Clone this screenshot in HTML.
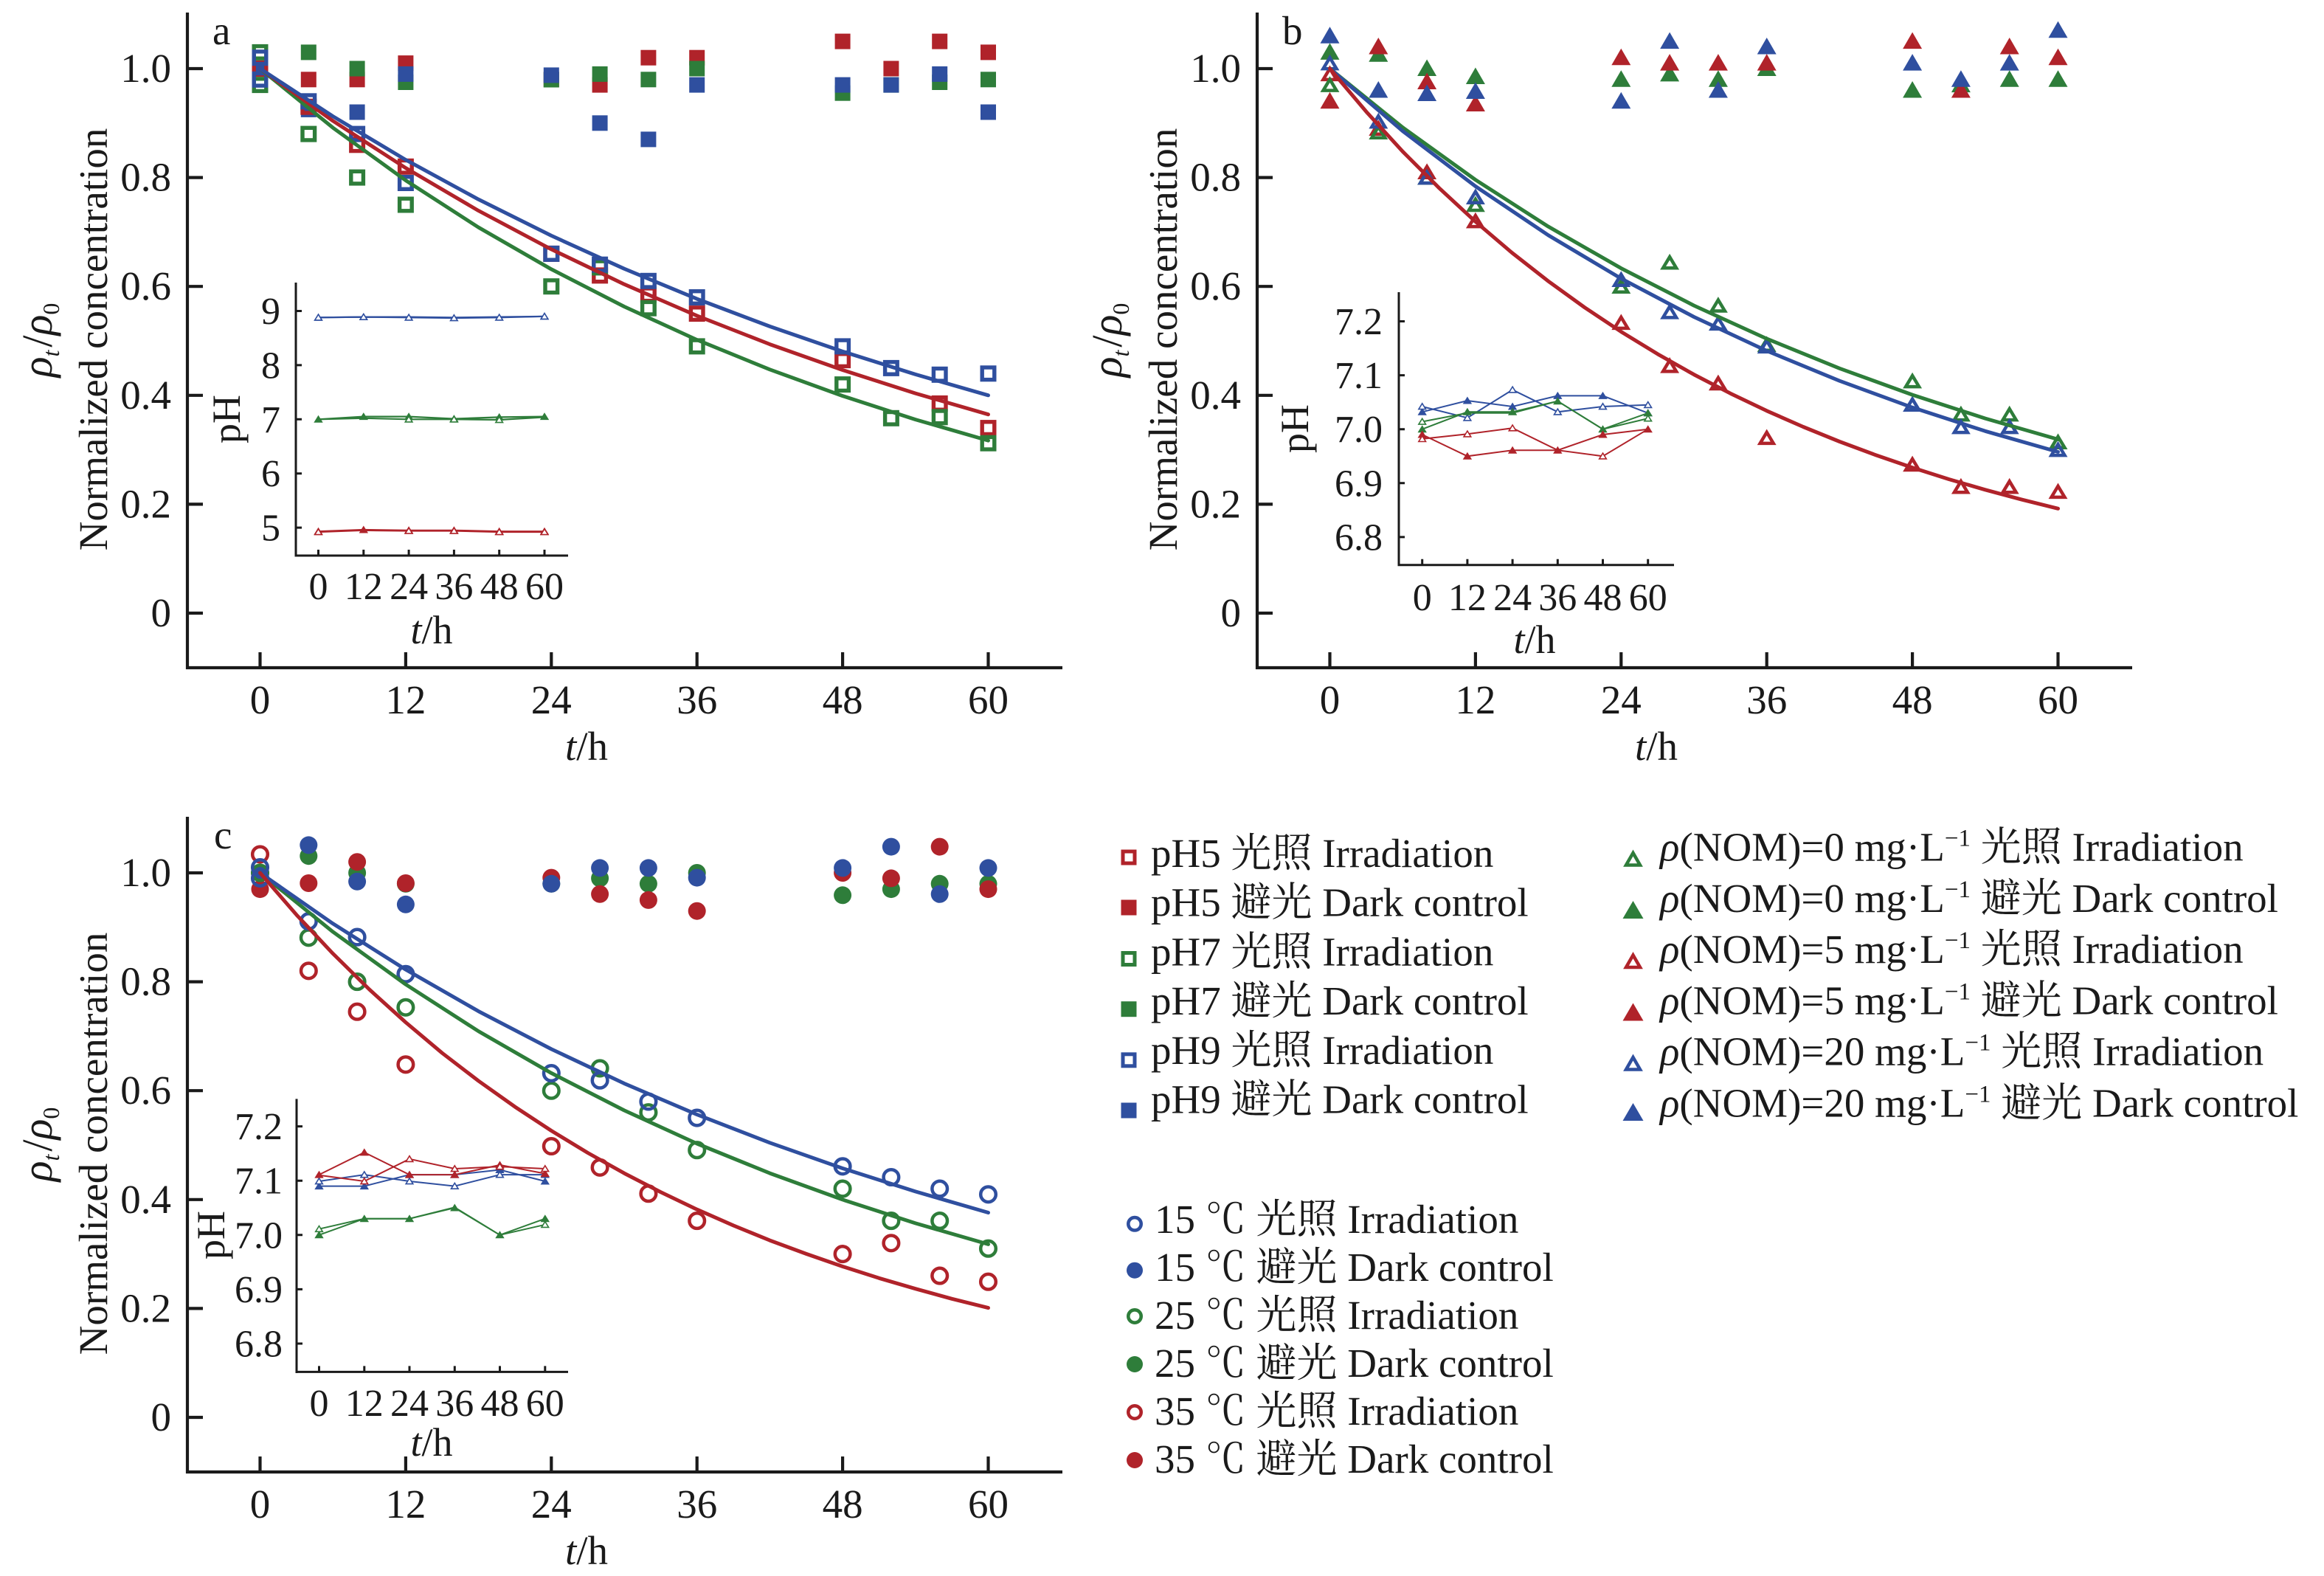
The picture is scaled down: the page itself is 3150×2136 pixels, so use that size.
<!DOCTYPE html>
<html><head><meta charset="utf-8"><style>
html,body{margin:0;padding:0;background:#fff;}
svg{display:block;font-family:"Liberation Serif","Noto Serif CJK SC",serif;}
</style></head><body>
<svg xmlns="http://www.w3.org/2000/svg" xmlns:xlink="http://www.w3.org/1999/xlink" width="3150" height="2136" viewBox="0 0 3150 2136">
<defs>
 <rect id="so" x="-8.3" y="-8.3" width="16.6" height="16.6" fill="none" stroke="currentColor" stroke-width="5.4"/>
 <rect id="sf" x="-10.5" y="-10.5" width="21" height="21" fill="currentColor"/>
 <path id="tf" d="M0,-12.5L13,10L-13,10Z" fill="currentColor"/>
 <path id="to" d="M0,-7.5L9,7.5L-9,7.5Z" fill="none" stroke="currentColor" stroke-width="4.5"/>
 <circle id="cf" r="12" fill="currentColor"/>
 <circle id="co" r="10.3" fill="none" stroke="currentColor" stroke-width="4.5"/>
 <path id="itf" d="M0,-5.5L6.2,4.5L-6.2,4.5Z" fill="currentColor"/>
 <path id="ito" d="M0,-4.2L4.8,3.6L-4.8,3.6Z" fill="#fff" stroke="currentColor" stroke-width="1.6"/>
 <rect id="lso" x="-8" y="-8" width="16" height="16" fill="none" stroke="currentColor" stroke-width="5"/>
 <rect id="lsf" x="-10.5" y="-10.5" width="21" height="21" fill="currentColor"/>
 <circle id="lco" r="8.7" fill="none" stroke="currentColor" stroke-width="4.6"/>
 <circle id="lcf" r="11" fill="currentColor"/>
 <path id="lto" d="M0,-8L9.5,8.5L-9.5,8.5Z" fill="none" stroke="currentColor" stroke-width="4.5"/>
 <path id="ltf" d="M0,-13L14,11L-14,11Z" fill="currentColor"/>
</defs>
<rect width="3150" height="2136" fill="#fff"/>

<!-- ================= PANEL A ================= -->
<g id="pa">
 <g stroke="#1a1a1a" stroke-width="4.2" fill="none">
  <path d="M254,17V907 M252,905H1440"/>
  <path d="M254,831H275 M254,683.4H275 M254,535.8H275 M254,388.2H275 M254,240.6H275 M254,93H275"/>
  <path d="M352.5,905V884 M549.9,905V884 M747.3,905V884 M944.7,905V884 M1142.1,905V884 M1339.5,905V884"/>
 </g>
 <g font-size="55" fill="#1a1a1a" text-anchor="end">
  <text x="232" y="849">0</text><text x="232" y="701.4">0.2</text><text x="232" y="553.8">0.4</text>
  <text x="232" y="406.2">0.6</text><text x="232" y="258.6">0.8</text><text x="232" y="111">1.0</text>
 </g>
 <g font-size="55" fill="#1a1a1a" text-anchor="middle">
  <text x="352.5" y="967">0</text><text x="549.9" y="967">12</text><text x="747.3" y="967">24</text>
  <text x="944.7" y="967">36</text><text x="1142.1" y="967">48</text><text x="1339.5" y="967">60</text>
  <text x="795" y="1030"><tspan font-style="italic">t</tspan>/h</text>
  <text transform="translate(145,460) rotate(-90)">Normalized concentration</text>
  <text transform="translate(70,461) rotate(-90)" font-size="58"><tspan font-style="italic">ρ</tspan><tspan font-style="italic" font-size="32" dy="10">t</tspan><tspan dy="-10" dx="4">/</tspan><tspan font-style="italic">ρ</tspan><tspan font-size="32" dy="10">0</tspan></text>
 </g>
 <text x="288" y="60" font-size="55" fill="#1a1a1a">a</text>

 <g color="#b0232a">
  <use href="#sf" x="352.5" y="93"/><use href="#sf" x="418.3" y="107.8"/><use href="#sf" x="484.1" y="107.8"/><use href="#sf" x="549.9" y="85.6"/><use href="#sf" x="747.3" y="107.8"/><use href="#sf" x="813.1" y="115.1"/><use href="#sf" x="878.9" y="78.2"/><use href="#sf" x="944.7" y="78.2"/><use href="#sf" x="1142.1" y="56.1"/><use href="#sf" x="1207.9" y="93"/><use href="#sf" x="1273.7" y="56.1"/><use href="#sf" x="1339.5" y="70.9"/>
 </g>
 <g color="#2e7d3a">
  <use href="#sf" x="352.5" y="93"/><use href="#sf" x="418.3" y="70.9"/><use href="#sf" x="484.1" y="93"/><use href="#sf" x="549.9" y="111.5"/><use href="#sf" x="747.3" y="108"/><use href="#sf" x="813.1" y="100.4"/><use href="#sf" x="878.9" y="107.8"/><use href="#sf" x="944.7" y="93"/><use href="#sf" x="1142.1" y="126.2"/><use href="#sf" x="1207.9" y="115.1"/><use href="#sf" x="1273.7" y="111.5"/><use href="#sf" x="1339.5" y="107.8"/>
 </g>
 <g color="#2f4f9f">
  <use href="#sf" x="352.5" y="93"/><use href="#sf" x="418.3" y="148.4"/><use href="#sf" x="484.1" y="152"/><use href="#sf" x="549.9" y="100.4"/><use href="#sf" x="747.3" y="101.9"/><use href="#sf" x="813.1" y="166.8"/><use href="#sf" x="878.9" y="188.9"/><use href="#sf" x="944.7" y="115.1"/><use href="#sf" x="1142.1" y="115.1"/><use href="#sf" x="1207.9" y="115.1"/><use href="#sf" x="1273.7" y="100.4"/><use href="#sf" x="1339.5" y="152"/>
 </g>
 <g color="#b0232a">
  <use href="#so" x="352.5" y="93"/><use href="#so" x="418.3" y="144.7"/><use href="#so" x="484.1" y="196.3"/><use href="#so" x="549.9" y="225.8"/><use href="#so" x="747.3" y="343.9"/><use href="#so" x="813.1" y="373.4"/><use href="#so" x="878.9" y="399.3"/><use href="#so" x="944.7" y="425.1"/><use href="#so" x="1142.1" y="488.1"/><use href="#so" x="1273.7" y="546.9"/><use href="#so" x="1339.5" y="580.1"/>
 </g>
 <g color="#2e7d3a">
  <use href="#so" x="352.5" y="70.9"/><use href="#so" x="352.5" y="115.1"/><use href="#so" x="418.3" y="181.6"/><use href="#so" x="484.1" y="240.6"/><use href="#so" x="549.9" y="277.5"/><use href="#so" x="747.3" y="388.2"/><use href="#so" x="813.1" y="362.4"/><use href="#so" x="878.9" y="417.7"/><use href="#so" x="944.7" y="469.4"/><use href="#so" x="1142.1" y="521.1"/><use href="#so" x="1207.9" y="566.8"/><use href="#so" x="1273.7" y="565.3"/><use href="#so" x="1339.5" y="600.7"/>
 </g>
 <g color="#2f4f9f">
  <use href="#so" x="352.5" y="78.2"/><use href="#so" x="352.5" y="107.8"/><use href="#so" x="418.3" y="137.3"/><use href="#so" x="484.1" y="181.6"/><use href="#so" x="549.9" y="248"/><use href="#so" x="747.3" y="343.9"/><use href="#so" x="813.1" y="358.7"/><use href="#so" x="878.9" y="380.8"/><use href="#so" x="944.7" y="403"/><use href="#so" x="1142.1" y="469.4"/><use href="#so" x="1207.9" y="498.9"/><use href="#so" x="1273.7" y="507.8"/><use href="#so" x="1339.5" y="506.3"/>
 </g>
 <g fill="none" stroke-width="5" stroke-linejoin="round" stroke-linecap="round">
  <polyline stroke="#2e7d3a" points="352.5,93 451.2,173.1 549.9,244.5 648.6,308.2 747.3,364.9 846,415.5 944.7,460.6 1043.4,500.8 1142.1,536.6 1240.8,568.6 1339.5,597.1"/>
  <polyline stroke="#b0232a" points="352.5,93 451.2,163.8 549.9,227.7 648.6,285.6 747.3,337.9 846,385.2 944.7,427.9 1043.4,466.6 1142.1,501.5 1240.8,533.1 1339.5,561.7"/>
  <polyline stroke="#2f4f9f" points="352.5,93 451.2,157.6 549.9,216.6 648.6,270.3 747.3,319.4 846,364.2 944.7,405.1 1043.4,442.4 1142.1,476.4 1240.8,507.4 1339.5,535.8"/>
 </g>

 <!-- inset a -->
 <g stroke="#1a1a1a" stroke-width="3" fill="none">
  <path d="M401,383V754.5 M399.5,753H770"/>
  <path d="M401,421.5H409 M401,494.9H409 M401,568.3H409 M401,641.7H409 M401,715.1H409"/>
  <path d="M431.5,753V745 M492.8,753V745 M554.1,753V745 M615.4,753V745 M676.7,753V745 M738,753V745"/>
 </g>
 <g font-size="52" fill="#1a1a1a" text-anchor="end">
  <text x="380" y="439">9</text><text x="380" y="512.4">8</text><text x="380" y="585.8">7</text><text x="380" y="659.2">6</text><text x="380" y="732.6">5</text>
 </g>
 <g font-size="52" fill="#1a1a1a" text-anchor="middle">
  <text x="431.5" y="812">0</text><text x="492.8" y="812">12</text><text x="554.1" y="812">24</text><text x="615.4" y="812">36</text><text x="676.7" y="812">48</text><text x="738" y="812">60</text>
 </g>
 <g font-size="54" fill="#1a1a1a" text-anchor="middle">
  <text x="585" y="872"><tspan font-style="italic">t</tspan>/h</text>
  <text transform="translate(325,568) rotate(-90)">pH</text>
 </g>
 <g fill="none" stroke-width="2.2">
  <polyline stroke="#b0232a" points="431.5,720.2 492.8,718 554.1,718.8 615.4,718.8 676.7,720.2 738,720.2"/>
  <polyline stroke="#b0232a" points="431.5,721 492.8,718.8 554.1,719.5 615.4,719.5 676.7,721 738,721"/>
  <polyline stroke="#2e7d3a" points="431.5,568.3 492.8,564.6 554.1,564.6 615.4,567.6 676.7,565.4 738,564.6"/>
  <polyline stroke="#2e7d3a" points="431.5,568.3 492.8,566.8 554.1,568.3 615.4,568.3 676.7,569 738,565.4"/>
  <polyline stroke="#2f4f9f" points="431.5,430.3 492.8,429.6 554.1,429.6 615.4,430.3 676.7,429.6 738,428.8"/>
  <polyline stroke="#2f4f9f" points="431.5,430.3 492.8,429.6 554.1,430.3 615.4,431 676.7,430.3 738,428.8"/>
 </g>
 <g color="#b0232a">
  <use href="#itf" x="431.5" y="720.2"/><use href="#itf" x="492.8" y="718"/><use href="#itf" x="554.1" y="718.8"/><use href="#itf" x="615.4" y="718.8"/><use href="#itf" x="676.7" y="720.2"/><use href="#itf" x="738" y="720.2"/>
  <use href="#ito" x="431.5" y="721"/><use href="#ito" x="554.1" y="719.5"/><use href="#ito" x="615.4" y="719.5"/><use href="#ito" x="676.7" y="721"/><use href="#ito" x="738" y="721"/>
 </g>
 <g color="#2e7d3a">
  <use href="#itf" x="431.5" y="568.3"/><use href="#itf" x="492.8" y="564.6"/><use href="#itf" x="554.1" y="564.6"/><use href="#itf" x="615.4" y="567.6"/><use href="#itf" x="676.7" y="565.4"/><use href="#itf" x="738" y="564.6"/>
  <use href="#ito" x="554.1" y="568.3"/><use href="#ito" x="615.4" y="568.3"/><use href="#ito" x="676.7" y="569"/>
 </g>
 <g color="#2f4f9f">
  <use href="#itf" x="431.5" y="430.3"/><use href="#itf" x="738" y="428.8"/>
  <use href="#ito" x="431.5" y="430.3"/><use href="#ito" x="492.8" y="429.6"/><use href="#ito" x="554.1" y="430.3"/><use href="#ito" x="615.4" y="431"/><use href="#ito" x="676.7" y="430.3"/><use href="#ito" x="738" y="428.8"/>
 </g>
</g>

<!-- ================= PANEL B ================= -->
<g transform="translate(1450,0)">
 <g stroke="#1a1a1a" stroke-width="4.2" fill="none">
  <path d="M254,17V907 M252,905H1440"/>
  <path d="M254,831H275 M254,683.4H275 M254,535.8H275 M254,388.2H275 M254,240.6H275 M254,93H275"/>
  <path d="M352.5,905V884 M549.9,905V884 M747.3,905V884 M944.7,905V884 M1142.1,905V884 M1339.5,905V884"/>
 </g>
 <g font-size="55" fill="#1a1a1a" text-anchor="end">
  <text x="232" y="849">0</text><text x="232" y="701.4">0.2</text><text x="232" y="553.8">0.4</text>
  <text x="232" y="406.2">0.6</text><text x="232" y="258.6">0.8</text><text x="232" y="111">1.0</text>
 </g>
 <g font-size="55" fill="#1a1a1a" text-anchor="middle">
  <text x="352.5" y="967">0</text><text x="549.9" y="967">12</text><text x="747.3" y="967">24</text>
  <text x="944.7" y="967">36</text><text x="1142.1" y="967">48</text><text x="1339.5" y="967">60</text>
  <text x="795" y="1030"><tspan font-style="italic">t</tspan>/h</text>
  <text transform="translate(145,460) rotate(-90)">Normalized concentration</text>
  <text transform="translate(70,461) rotate(-90)" font-size="58"><tspan font-style="italic">ρ</tspan><tspan font-style="italic" font-size="32" dy="10">t</tspan><tspan dy="-10" dx="4">/</tspan><tspan font-style="italic">ρ</tspan><tspan font-size="32" dy="10">0</tspan></text>
 </g>
 <text x="288" y="60" font-size="55" fill="#1a1a1a">b</text>

 <g color="#2e7d3a">
  <use href="#tf" x="352.5" y="70.9"/><use href="#tf" x="418.3" y="73.7"/><use href="#tf" x="484.1" y="93"/><use href="#tf" x="549.9" y="104"/><use href="#tf" x="747.3" y="107.8"/><use href="#tf" x="813.1" y="100.4"/><use href="#tf" x="878.9" y="107.8"/><use href="#tf" x="944.7" y="93"/><use href="#tf" x="1142.1" y="122.5"/><use href="#tf" x="1207.9" y="115.1"/><use href="#tf" x="1273.7" y="107.8"/><use href="#tf" x="1339.5" y="107.8"/>
 </g>
 <g color="#b0232a">
  <use href="#tf" x="352.5" y="137.3"/><use href="#tf" x="418.3" y="63.5"/><use href="#tf" x="484.1" y="111"/><use href="#tf" x="549.9" y="141"/><use href="#tf" x="747.3" y="78.2"/><use href="#tf" x="813.1" y="85.6"/><use href="#tf" x="878.9" y="85.6"/><use href="#tf" x="944.7" y="85.6"/><use href="#tf" x="1142.1" y="56.1"/><use href="#tf" x="1207.9" y="122.5"/><use href="#tf" x="1273.7" y="63.5"/><use href="#tf" x="1339.5" y="78.2"/>
 </g>
 <g color="#2f4f9f">
  <use href="#tf" x="352.5" y="48.7"/><use href="#tf" x="418.3" y="122.5"/><use href="#tf" x="484.1" y="127"/><use href="#tf" x="549.9" y="124"/><use href="#tf" x="747.3" y="137.3"/><use href="#tf" x="813.1" y="56.1"/><use href="#tf" x="878.9" y="122.5"/><use href="#tf" x="944.7" y="63.5"/><use href="#tf" x="1142.1" y="85.6"/><use href="#tf" x="1207.9" y="107.8"/><use href="#tf" x="1273.7" y="85.6"/><use href="#tf" x="1339.5" y="41.3"/>
 </g>
 <g color="#b0232a">
  <use href="#to" x="352.5" y="100.4"/><use href="#to" x="418.3" y="174.2"/><use href="#to" x="484.1" y="233.2"/><use href="#to" x="549.9" y="299.6"/><use href="#to" x="747.3" y="437.4"/><use href="#to" x="813.1" y="495.9"/><use href="#to" x="878.9" y="519.5"/><use href="#to" x="944.7" y="593.4"/><use href="#to" x="1142.1" y="629.5"/><use href="#to" x="1207.9" y="659.8"/><use href="#to" x="1273.7" y="659.8"/><use href="#to" x="1339.5" y="666.4"/>
 </g>
 <g color="#2e7d3a">
  <use href="#to" x="352.5" y="115.1"/><use href="#to" x="418.3" y="179.3"/><use href="#to" x="484.1" y="240.6"/><use href="#to" x="549.9" y="277.5"/><use href="#to" x="747.3" y="388.2"/><use href="#to" x="813.1" y="355.7"/><use href="#to" x="878.9" y="414"/><use href="#to" x="944.7" y="467.2"/><use href="#to" x="1142.1" y="516.6"/><use href="#to" x="1207.9" y="561.6"/><use href="#to" x="1273.7" y="561.6"/><use href="#to" x="1339.5" y="599.3"/>
 </g>
 <g color="#2f4f9f">
  <use href="#to" x="352.5" y="85.6"/><use href="#to" x="418.3" y="164.6"/><use href="#to" x="484.1" y="240.6"/><use href="#to" x="549.9" y="267.2"/><use href="#to" x="747.3" y="379.3"/><use href="#to" x="813.1" y="422.9"/><use href="#to" x="878.9" y="438.4"/><use href="#to" x="944.7" y="469.4"/><use href="#to" x="1142.1" y="548.3"/><use href="#to" x="1207.9" y="578.6"/><use href="#to" x="1273.7" y="578.6"/><use href="#to" x="1339.5" y="609.6"/>
 </g>
 <g fill="none" stroke-width="5" stroke-linejoin="round" stroke-linecap="round">
  <polyline stroke="#2e7d3a" points="352.5,93 451.2,172.7 549.9,243.7 648.6,307.1 747.3,363.6 846,414.1 944.7,459.1 1043.4,499.3 1142.1,535.1 1240.8,567.1 1339.5,595.5"/>
  <polyline stroke="#2f4f9f" points="352.5,93 451.2,177.6 549.9,252.5 648.6,318.8 747.3,377.5 846,429.5 944.7,475.5 1043.4,516.2 1142.1,552.3 1240.8,584.3 1339.5,612.5"/>
  <polyline stroke="#b0232a" points="352.5,93 401.9,151.4 451.2,205.3 500.6,254.8 549.9,300.4 599.3,342.5 648.6,381.1 698,416.8 747.3,449.6 796.7,479.8 846,507.6 895.4,533.2 944.7,556.8 994.1,578.5 1043.4,598.5 1092.8,616.9 1142.1,633.8 1191.5,649.5 1240.8,663.8 1290.2,677.1 1339.5,689.3"/>
 </g>

 <!-- inset b -->
 <g stroke="#1a1a1a" stroke-width="3" fill="none">
  <path d="M446,396V767 M444.5,765.7H819"/>
  <path d="M446,435.5H454 M446,508.6H454 M446,581.7H454 M446,654.8H454 M446,727.9H454"/>
  <path d="M477.7,765.7V757.7 M538.9,765.7V757.7 M600.1,765.7V757.7 M661.3,765.7V757.7 M722.5,765.7V757.7 M783.7,765.7V757.7"/>
 </g>
 <g font-size="52" fill="#1a1a1a" text-anchor="end">
  <text x="424" y="453">7.2</text><text x="424" y="526.1">7.1</text><text x="424" y="599.2">7.0</text><text x="424" y="672.3">6.9</text><text x="424" y="745.4">6.8</text>
 </g>
 <g font-size="52" fill="#1a1a1a" text-anchor="middle">
  <text x="477.7" y="827">0</text><text x="538.9" y="827">12</text><text x="600.1" y="827">24</text><text x="661.3" y="827">36</text><text x="722.5" y="827">48</text><text x="783.7" y="827">60</text>
 </g>
 <g font-size="54" fill="#1a1a1a" text-anchor="middle">
  <text x="630" y="885"><tspan font-style="italic">t</tspan>/h</text>
  <text transform="translate(323,581) rotate(-90)">pH</text>
 </g>
 <g fill="none" stroke-width="2">
  <polyline stroke="#2f4f9f" points="477.7,551 538.9,566.3 600.1,528.3 661.3,558.3 722.5,551 783.7,548.8"/>
  <polyline stroke="#2f4f9f" points="477.7,558.3 538.9,543 600.1,551 661.3,536.4 722.5,536.4 783.7,559.8"/>
  <polyline stroke="#2e7d3a" points="477.7,571.5 538.9,559.8 600.1,559.8 661.3,543.7 722.5,581.7 783.7,567.1"/>
  <polyline stroke="#2e7d3a" points="477.7,581.7 538.9,558.3 600.1,558.3 661.3,543.7 722.5,581.7 783.7,559.8"/>
  <polyline stroke="#b0232a" points="477.7,594.9 538.9,588.3 600.1,580.2 661.3,610.2 722.5,618.3 783.7,581.7"/>
  <polyline stroke="#b0232a" points="477.7,589 538.9,618.3 600.1,610.2 661.3,610.2 722.5,589 783.7,581.7"/>
 </g>
 <g color="#2f4f9f">
  <use href="#itf" x="477.7" y="558.3"/><use href="#itf" x="538.9" y="543"/><use href="#itf" x="600.1" y="551"/><use href="#itf" x="661.3" y="536.4"/><use href="#itf" x="722.5" y="536.4"/><use href="#itf" x="783.7" y="559.8"/>
  <use href="#ito" x="477.7" y="551"/><use href="#ito" x="538.9" y="566.3"/><use href="#ito" x="600.1" y="528.3"/><use href="#ito" x="661.3" y="558.3"/><use href="#ito" x="722.5" y="551"/><use href="#ito" x="783.7" y="548.8"/>
 </g>
 <g color="#2e7d3a">
  <use href="#itf" x="477.7" y="581.7"/><use href="#itf" x="538.9" y="558.3"/><use href="#itf" x="600.1" y="558.3"/><use href="#itf" x="661.3" y="543.7"/><use href="#itf" x="722.5" y="581.7"/><use href="#itf" x="783.7" y="559.8"/>
  <use href="#ito" x="477.7" y="571.5"/><use href="#ito" x="783.7" y="567.1"/>
 </g>
 <g color="#b0232a">
  <use href="#itf" x="477.7" y="589"/><use href="#itf" x="538.9" y="618.3"/><use href="#itf" x="600.1" y="610.2"/><use href="#itf" x="661.3" y="610.2"/><use href="#itf" x="722.5" y="589"/><use href="#itf" x="783.7" y="581.7"/>
  <use href="#ito" x="477.7" y="594.9"/><use href="#ito" x="538.9" y="588.3"/><use href="#ito" x="600.1" y="580.2"/><use href="#ito" x="722.5" y="618.3"/>
 </g>
</g>

<!-- ================= PANEL C ================= -->
<g transform="translate(0,1090)">
 <g stroke="#1a1a1a" stroke-width="4.2" fill="none">
  <path d="M254,17V907 M252,905H1440"/>
  <path d="M254,831H275 M254,683.4H275 M254,535.8H275 M254,388.2H275 M254,240.6H275 M254,93H275"/>
  <path d="M352.5,905V884 M549.9,905V884 M747.3,905V884 M944.7,905V884 M1142.1,905V884 M1339.5,905V884"/>
 </g>
 <g font-size="55" fill="#1a1a1a" text-anchor="end">
  <text x="232" y="849">0</text><text x="232" y="701.4">0.2</text><text x="232" y="553.8">0.4</text>
  <text x="232" y="406.2">0.6</text><text x="232" y="258.6">0.8</text><text x="232" y="111">1.0</text>
 </g>
 <g font-size="55" fill="#1a1a1a" text-anchor="middle">
  <text x="352.5" y="967">0</text><text x="549.9" y="967">12</text><text x="747.3" y="967">24</text>
  <text x="944.7" y="967">36</text><text x="1142.1" y="967">48</text><text x="1339.5" y="967">60</text>
  <text x="795" y="1030"><tspan font-style="italic">t</tspan>/h</text>
  <text transform="translate(145,460) rotate(-90)">Normalized concentration</text>
  <text transform="translate(70,461) rotate(-90)" font-size="58"><tspan font-style="italic">ρ</tspan><tspan font-style="italic" font-size="32" dy="10">t</tspan><tspan dy="-10" dx="4">/</tspan><tspan font-style="italic">ρ</tspan><tspan font-size="32" dy="10">0</tspan></text>
 </g>
 <text x="290" y="60" font-size="55" fill="#1a1a1a">c</text>

 <g color="#2e7d3a">
  <use href="#cf" x="352.5" y="93"/><use href="#cf" x="418.3" y="70.2"/><use href="#cf" x="484.1" y="93"/><use href="#cf" x="549.9" y="107.8"/><use href="#cf" x="747.3" y="107.8"/><use href="#cf" x="813.1" y="100.4"/><use href="#cf" x="878.9" y="107.8"/><use href="#cf" x="944.7" y="93"/><use href="#cf" x="1142.1" y="123.3"/><use href="#cf" x="1207.9" y="115.1"/><use href="#cf" x="1273.7" y="107.8"/><use href="#cf" x="1339.5" y="107.8"/>
 </g>
 <g color="#b0232a">
  <use href="#cf" x="352.5" y="115.1"/><use href="#cf" x="418.3" y="107"/><use href="#cf" x="484.1" y="78.2"/><use href="#cf" x="549.9" y="107"/><use href="#cf" x="747.3" y="99.6"/><use href="#cf" x="813.1" y="121.8"/><use href="#cf" x="878.9" y="129.9"/><use href="#cf" x="944.7" y="144.7"/><use href="#cf" x="1142.1" y="93"/><use href="#cf" x="1207.9" y="100.4"/><use href="#cf" x="1273.7" y="57.6"/><use href="#cf" x="1339.5" y="115.1"/>
 </g>
 <g color="#2f4f9f">
  <use href="#cf" x="352.5" y="93"/><use href="#cf" x="418.3" y="55.4"/><use href="#cf" x="484.1" y="104.8"/><use href="#cf" x="549.9" y="135.8"/><use href="#cf" x="747.3" y="107.8"/><use href="#cf" x="813.1" y="86.4"/><use href="#cf" x="878.9" y="86.4"/><use href="#cf" x="944.7" y="99.6"/><use href="#cf" x="1142.1" y="86.4"/><use href="#cf" x="1207.9" y="57.6"/><use href="#cf" x="1273.7" y="121.8"/><use href="#cf" x="1339.5" y="86.4"/>
 </g>
 <g color="#b0232a">
  <use href="#co" x="352.5" y="67.9"/><use href="#co" x="418.3" y="225.8"/><use href="#co" x="484.1" y="281.2"/><use href="#co" x="549.9" y="352.8"/><use href="#co" x="747.3" y="463.5"/><use href="#co" x="813.1" y="492.3"/><use href="#co" x="878.9" y="527.7"/><use href="#co" x="944.7" y="564.6"/><use href="#co" x="1142.1" y="609.6"/><use href="#co" x="1207.9" y="594.8"/><use href="#co" x="1273.7" y="639.1"/><use href="#co" x="1339.5" y="647.2"/>
 </g>
 <g color="#2e7d3a">
  <use href="#co" x="352.5" y="93"/><use href="#co" x="418.3" y="180.8"/><use href="#co" x="484.1" y="240.6"/><use href="#co" x="549.9" y="275.3"/><use href="#co" x="747.3" y="388.2"/><use href="#co" x="813.1" y="357.9"/><use href="#co" x="878.9" y="417.7"/><use href="#co" x="944.7" y="468.7"/><use href="#co" x="1142.1" y="521.1"/><use href="#co" x="1207.9" y="564.6"/><use href="#co" x="1273.7" y="564.6"/><use href="#co" x="1339.5" y="602.2"/>
 </g>
 <g color="#2f4f9f">
  <use href="#co" x="352.5" y="85.6"/><use href="#co" x="352.5" y="100.4"/><use href="#co" x="418.3" y="158.7"/><use href="#co" x="484.1" y="180.1"/><use href="#co" x="549.9" y="230.3"/><use href="#co" x="747.3" y="364.6"/><use href="#co" x="813.1" y="374.2"/><use href="#co" x="878.9" y="403"/><use href="#co" x="944.7" y="425.1"/><use href="#co" x="1142.1" y="490.8"/><use href="#co" x="1207.9" y="505.5"/><use href="#co" x="1273.7" y="521.1"/><use href="#co" x="1339.5" y="528.8"/>
 </g>
 <g fill="none" stroke-width="5" stroke-linejoin="round" stroke-linecap="round">
  <polyline stroke="#2e7d3a" points="352.5,93 451.2,172.9 549.9,244.2 648.6,307.7 747.3,364.4 846,414.9 944.7,460 1043.4,500.1 1142.1,535.9 1240.8,567.9 1339.5,596.4"/>
  <polyline stroke="#2f4f9f" points="352.5,93 451.2,161.8 549.9,224.1 648.6,280.6 747.3,331.9 846,378.4 944.7,420.6 1043.4,458.8 1142.1,493.5 1240.8,524.9 1339.5,553.5"/>
  <polyline stroke="#b0232a" points="352.5,93 401.9,149.9 451.2,202.4 500.6,251 549.9,295.6 599.3,337.2 648.6,375 698,410.1 747.3,442.5 796.7,472.5 846,500.1 895.4,525.6 944.7,549.2 994.1,570.9 1043.4,591.1 1092.8,609.4 1142.1,626.5 1191.5,642.3 1240.8,656.7 1290.2,670.3 1339.5,682.6"/>
 </g>

 <!-- inset c -->
 <g stroke="#1a1a1a" stroke-width="3" fill="none">
  <path d="M402,399.4V771 M400.5,769.4H770"/>
  <path d="M402,436.6H410 M402,510.2H410 M402,583.8H410 M402,657.4H410 M402,731H410"/>
  <path d="M432.5,769.4V761.4 M493.8,769.4V761.4 M555,769.4V761.4 M616.3,769.4V761.4 M677.5,769.4V761.4 M738.8,769.4V761.4"/>
 </g>
 <g font-size="52" fill="#1a1a1a" text-anchor="end">
  <text x="383" y="454.1">7.2</text><text x="383" y="527.7">7.1</text><text x="383" y="601.3">7.0</text><text x="383" y="674.9">6.9</text><text x="383" y="748.5">6.8</text>
 </g>
 <g font-size="52" fill="#1a1a1a" text-anchor="middle">
  <text x="432.5" y="829">0</text><text x="493.8" y="829">12</text><text x="555" y="829">24</text><text x="616.3" y="829">36</text><text x="677.5" y="829">48</text><text x="738.8" y="829">60</text>
 </g>
 <g font-size="54" fill="#1a1a1a" text-anchor="middle">
  <text x="585" y="883"><tspan font-style="italic">t</tspan>/h</text>
  <text transform="translate(304,584) rotate(-90)">pH</text>
 </g>
 <g fill="none" stroke-width="2">
  <polyline stroke="#2e7d3a" points="432.5,575.7 493.8,561.7 555,561.7 616.3,546.3 677.5,583.8 738.8,569.8"/>
  <polyline stroke="#2e7d3a" points="432.5,583.8 493.8,561.7 555,561.7 616.3,547 677.5,583.8 738.8,561.7"/>
  <polyline stroke="#2f4f9f" points="432.5,511 493.8,502.1 555,511 616.3,517.6 677.5,502.1 738.8,502.1"/>
  <polyline stroke="#2f4f9f" points="432.5,517.6 493.8,517.6 555,502.1 616.3,502.1 677.5,495.5 738.8,511"/>
  <polyline stroke="#b0232a" points="432.5,502.1 493.8,471.9 555,502.1 616.3,502.1 677.5,488.9 738.8,500.6"/>
  <polyline stroke="#b0232a" points="432.5,502.8 493.8,511 555,480.8 616.3,494 677.5,491.1 738.8,494"/>
 </g>
 <g color="#2e7d3a">
  <use href="#itf" x="432.5" y="583.8"/><use href="#itf" x="493.8" y="561.7"/><use href="#itf" x="555" y="561.7"/><use href="#itf" x="616.3" y="547"/><use href="#itf" x="677.5" y="583.8"/><use href="#itf" x="738.8" y="561.7"/>
  <use href="#ito" x="432.5" y="575.7"/><use href="#ito" x="738.8" y="569.8"/>
 </g>
 <g color="#2f4f9f">
  <use href="#itf" x="432.5" y="517.6"/><use href="#itf" x="493.8" y="517.6"/><use href="#itf" x="555" y="502.1"/><use href="#itf" x="616.3" y="502.1"/><use href="#itf" x="677.5" y="495.5"/><use href="#itf" x="738.8" y="511"/>
  <use href="#ito" x="432.5" y="511"/><use href="#ito" x="493.8" y="502.1"/><use href="#ito" x="555" y="511"/><use href="#ito" x="616.3" y="517.6"/><use href="#ito" x="677.5" y="502.1"/><use href="#ito" x="738.8" y="502.1"/>
 </g>
 <g color="#b0232a">
  <use href="#itf" x="432.5" y="502.1"/><use href="#itf" x="493.8" y="471.9"/><use href="#itf" x="555" y="502.1"/><use href="#itf" x="616.3" y="502.1"/><use href="#itf" x="677.5" y="488.9"/><use href="#itf" x="738.8" y="500.6"/>
  <use href="#ito" x="493.8" y="511"/><use href="#ito" x="555" y="480.8"/><use href="#ito" x="616.3" y="494"/><use href="#ito" x="677.5" y="491.1"/><use href="#ito" x="738.8" y="494"/>
 </g>
</g>

<!-- ================= LEGENDS ================= -->
<g font-size="55" fill="#1a1a1a">
 <use href="#lso" x="1530" y="1162" color="#b0232a"/>
 <use href="#lsf" x="1530" y="1230" color="#b0232a"/>
 <use href="#lso" x="1530" y="1299.5" color="#2e7d3a"/>
 <use href="#lsf" x="1530" y="1367.7" color="#2e7d3a"/>
 <use href="#lso" x="1530" y="1436.8" color="#2f4f9f"/>
 <use href="#lsf" x="1530" y="1505" color="#2f4f9f"/>
 <text x="1560" y="1175">pH5 光照 Irradiation</text>
 <text x="1560" y="1241.7">pH5 避光 Dark control</text>
 <text x="1560" y="1308.4">pH7 光照 Irradiation</text>
 <text x="1560" y="1375.1">pH7 避光 Dark control</text>
 <text x="1560" y="1441.8">pH9 光照 Irradiation</text>
 <text x="1560" y="1508.5">pH9 避光 Dark control</text>

 <use href="#lco" x="1538" y="1658.8" color="#2f4f9f"/>
 <use href="#lcf" x="1538" y="1721.7" color="#2f4f9f"/>
 <use href="#lco" x="1538" y="1784" color="#2e7d3a"/>
 <use href="#lcf" x="1538" y="1849" color="#2e7d3a"/>
 <use href="#lco" x="1538" y="1914" color="#b0232a"/>
 <use href="#lcf" x="1538" y="1979" color="#b0232a"/>
 <text x="1565" y="1671">15 ℃ 光照 Irradiation</text>
 <text x="1565" y="1736">15 ℃ 避光 Dark control</text>
 <text x="1565" y="1801">25 ℃ 光照 Irradiation</text>
 <text x="1565" y="1866">25 ℃ 避光 Dark control</text>
 <text x="1565" y="1931">35 ℃ 光照 Irradiation</text>
 <text x="1565" y="1996">35 ℃ 避光 Dark control</text>

 <use href="#lto" x="2213.5" y="1164" color="#2e7d3a"/>
 <use href="#ltf" x="2213.5" y="1234" color="#2e7d3a"/>
 <use href="#lto" x="2213.5" y="1302.5" color="#b0232a"/>
 <use href="#ltf" x="2213.5" y="1372.5" color="#b0232a"/>
 <use href="#lto" x="2213.5" y="1441" color="#2f4f9f"/>
 <use href="#ltf" x="2213.5" y="1508" color="#2f4f9f"/>
 <text x="2250" y="1166.7"><tspan font-style="italic">ρ</tspan>(NOM)=0 mg·L<tspan font-size="33" dy="-20">−1</tspan><tspan dy="20"> 光照 Irradiation</tspan></text>
 <text x="2250" y="1236"><tspan font-style="italic">ρ</tspan>(NOM)=0 mg·L<tspan font-size="33" dy="-20">−1</tspan><tspan dy="20"> 避光 Dark control</tspan></text>
 <text x="2250" y="1305"><tspan font-style="italic">ρ</tspan>(NOM)=5 mg·L<tspan font-size="33" dy="-20">−1</tspan><tspan dy="20"> 光照 Irradiation</tspan></text>
 <text x="2250" y="1374.3"><tspan font-style="italic">ρ</tspan>(NOM)=5 mg·L<tspan font-size="33" dy="-20">−1</tspan><tspan dy="20"> 避光 Dark control</tspan></text>
 <text x="2250" y="1443.3"><tspan font-style="italic">ρ</tspan>(NOM)=20 mg·L<tspan font-size="33" dy="-20">−1</tspan><tspan dy="20"> 光照 Irradiation</tspan></text>
 <text x="2250" y="1513.3"><tspan font-style="italic">ρ</tspan>(NOM)=20 mg·L<tspan font-size="33" dy="-20">−1</tspan><tspan dy="20"> 避光 Dark control</tspan></text>
</g>
</svg>
</body></html>
